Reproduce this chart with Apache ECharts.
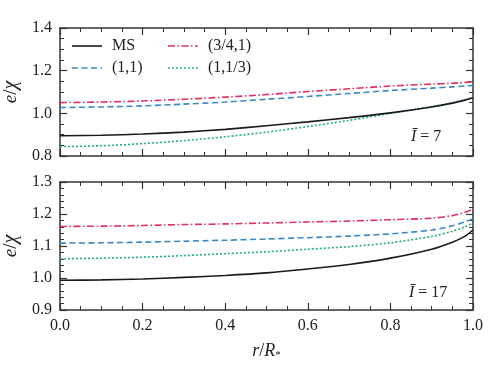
<!DOCTYPE html>
<html>
<head>
<meta charset="utf-8">
<script src="https://cdn.jsdelivr.net/npm/echarts@6/dist/echarts.min.js"></script>
<style>
  html, body { margin: 0; padding: 0; background: #fff; }
  #chart { width: 498px; height: 374px; }
</style>
</head>
<body>
<div id="chart"></div>
<script>
// r / R* sample positions
const rVals = [0, 0.1, 0.2, 0.3, 0.4, 0.5, 0.6, 0.7, 0.8, 0.9, 0.95, 0.98, 1.0];

// top panel, I = 7
const topMS    = [0.895, 0.897, 0.903, 0.912, 0.925, 0.942, 0.960, 0.980, 1.002, 1.030, 1.048, 1.062, 1.073];
const top3411  = [1.050, 1.053, 1.058, 1.066, 1.076, 1.088, 1.102, 1.115, 1.128, 1.137, 1.141, 1.145, 1.148];
const top11    = [1.027, 1.030, 1.035, 1.043, 1.053, 1.066, 1.079, 1.093, 1.107, 1.118, 1.124, 1.128, 1.131];
const top113   = [0.844, 0.848, 0.858, 0.872, 0.890, 0.912, 0.938, 0.967, 1.000, 1.032, 1.050, 1.064, 1.075];

// bottom panel, I = 17
const botMS    = [0.993, 0.994, 0.997, 1.002, 1.008, 1.016, 1.028, 1.042, 1.062, 1.090, 1.112, 1.130, 1.150];
const bot3411  = [1.161, 1.162, 1.164, 1.167, 1.169, 1.172, 1.175, 1.178, 1.182, 1.187, 1.195, 1.205, 1.215];
const bot11    = [1.109, 1.110, 1.112, 1.115, 1.118, 1.122, 1.126, 1.131, 1.138, 1.150, 1.163, 1.175, 1.185];
const bot113   = [1.060, 1.062, 1.065, 1.070, 1.076, 1.082, 1.090, 1.098, 1.110, 1.130, 1.146, 1.160, 1.172];

const names = ["MS", "(3/4,1)", "(1,1)", "(1,1/3)"];
const panelLabels = ["7", "17"];

const font = "Liberation Serif";
const axisCol = "#333";
const colors = ["#1a1a1a", "#e0305c", "#3b88c6", "#22b070"];
const dashes = ["solid", [7, 2.5, 1.5, 2.5], [6, 3.5], [2, 2]];
const dashArr = [null, [7, 2.5, 1.5, 2.5], [6, 3.5], [2, 2]];

function pairs(ys) {
  return rVals.map((r, i) => [r, ys[i]]);
}

function mkX(grid, labels) {
  const base = {
    gridIndex: grid, type: "value", min: 0, max: 1, interval: 0.2,
    axisLine: { onZero: false, lineStyle: { color: axisCol, width: 1.5 } },
    axisTick: { inside: true, length: 7, lineStyle: { color: axisCol, width: 1.2 } },
    minorTick: { show: true, splitNumber: 4, length: 4, lineStyle: { color: axisCol, width: 1 } },
    splitLine: { show: false }
  };
  const bottom = Object.assign({}, base, {
    position: "bottom",
    axisLabel: { show: labels, fontFamily: font, fontSize: 16, color: "#222", margin: 8,
      formatter: v => v.toFixed(1) }
  });
  if (labels) {
    bottom.name = "{i|r}/{i|R}{s|*}";
    bottom.nameLocation = "middle";
    bottom.nameGap = 32;
    bottom.nameTextStyle = {
      fontFamily: font, fontSize: 18, color: "#222",
      rich: {
        i: { fontFamily: font, fontStyle: "italic", fontSize: 18, color: "#222" },
        s: { fontFamily: font, fontSize: 11, color: "#222", verticalAlign: "bottom", padding: [8, 0, 0, 0] }
      }
    };
  }
  const top = Object.assign({}, base, { position: "top", axisLabel: { show: false } });
  return [bottom, top];
}

function mkY(grid, min, max, interval, minorSplit) {
  const base = {
    gridIndex: grid, type: "value", min: min, max: max, interval: interval,
    axisLine: { onZero: false, lineStyle: { color: axisCol, width: 1.5 } },
    axisTick: { inside: true, length: 7, lineStyle: { color: axisCol, width: 1.2 } },
    minorTick: { show: true, splitNumber: minorSplit, length: 4, lineStyle: { color: axisCol, width: 1 } },
    splitLine: { show: false }
  };
  const left = Object.assign({}, base, {
    position: "left",
    name: "{i|e}/{g|χ}",
    nameLocation: "middle",
    nameGap: 32,
    nameRotate: 90,
    nameTextStyle: {
      fontFamily: font, fontSize: 19, color: "#222",
      rich: {
        i: { fontFamily: font, fontStyle: "italic", fontSize: 19, color: "#222" },
        g: { fontFamily: font, fontStyle: "italic", fontSize: 20, color: "#222" }
      }
    },
    axisLabel: { fontFamily: font, fontSize: 16, color: "#222", margin: 8,
      formatter: v => v.toFixed(1) }
  });
  const right = Object.assign({}, base, { position: "right", axisLabel: { show: false } });
  return [left, right];
}

const topData = [topMS, top3411, top11, top113];
const botData = [botMS, bot3411, bot11, bot113];

const series = [];
[topData, botData].forEach((set, g) => {
  set.forEach((ys, k) => {
    series.push({
      name: names[k], type: "line",
      xAxisIndex: g * 2, yAxisIndex: g * 2,
      data: pairs(ys), smooth: 0.3, showSymbol: false, symbol: "none",
      lineStyle: { color: colors[k], width: 1.6, type: dashes[k] },
      itemStyle: { color: colors[k] },
      z: 10 - k
    });
  });
});

// legend drawn by hand: 2 columns x 2 rows, lines keep the series dash
const legendSlots = [[72, 46], [168, 46], [72, 68], [168, 68]];
const graphics = [];
names.forEach((n, k) => {
  const [x, y] = legendSlots[k];
  graphics.push({
    type: "line", z: 20,
    shape: { x1: x, y1: y, x2: x + 30, y2: y },
    style: { stroke: colors[k], lineWidth: 1.6, lineDash: dashArr[k] }
  });
  graphics.push({
    type: "text", z: 20, left: x + 40, top: y - 8,
    style: { text: n, font: "16px 'Liberation Serif'", fill: "#222" }
  });
});

// panel annotations
[[411, 129], [409, 285]].forEach((p, g) => {
  graphics.push({
    type: "text", z: 20, left: p[0], top: p[1],
    style: {
      text: "{i|Ī} = " + panelLabels[g],
      font: "16px 'Liberation Serif'", fill: "#222",
      rich: { i: { fontFamily: font, fontStyle: "italic", fontSize: 16, fill: "#222" } }
    }
  });
});

const option = {
  backgroundColor: "#fff",
  animation: false,
  grid: [
    { left: 60, right: 25, top: 28, height: 128, outerBoundsMode: "none", containLabel: false },
    { left: 60, right: 25, top: 182, height: 128, outerBoundsMode: "none", containLabel: false }
  ],
  xAxis: [...mkX(0, false), ...mkX(1, true)],
  yAxis: [...mkY(0, 0.8, 1.4, 0.2, 4), ...mkY(1, 0.9, 1.3, 0.1, 5)],
  graphic: graphics,
  series: series
};

const chart = echarts.init(document.getElementById("chart"), null, { renderer: "canvas" });
chart.setOption(option);
</script>
</body>
</html>
